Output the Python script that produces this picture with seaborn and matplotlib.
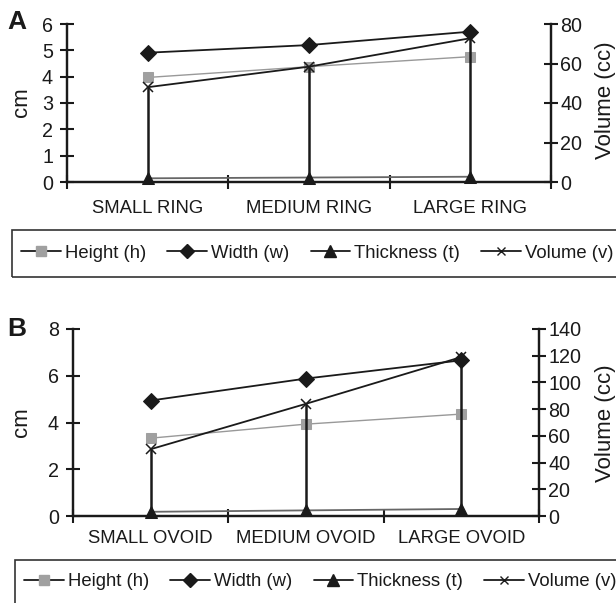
import numpy as np
import matplotlib
matplotlib.use("Agg")
import matplotlib.pyplot as plt
import seaborn as sns
from matplotlib.lines import Line2D
from matplotlib.patches import Rectangle

# ==========================
# DATA
# ==========================
ring_labels = ["SMALL RING", "MEDIUM RING", "LARGE RING"]
ring_height = [3.97, 4.38, 4.76]
ring_width = [4.91, 5.20, 5.71]
ring_thickness = [0.14, 0.17, 0.20]
ring_volume = [48, 58.4, 72.8]

ovoid_labels = ["SMALL OVOID", "MEDIUM OVOID", "LARGE OVOID"]
ovoid_height = [3.33, 3.93, 4.36]
ovoid_width = [4.94, 5.88, 6.66]
ovoid_thickness = [0.18, 0.24, 0.30]
ovoid_volume = [50, 84, 119]

series_names = ["Height (h)", "Width (w)", "Thickness (t)", "Volume (v)"]

# ==========================
# STYLE
# ==========================
sns.set_theme(style="white")
plt.rcParams["font.family"] = ["Liberation Sans", "DejaVu Sans"]
FS = 13.3
YFS = 14.2
W, H = 616, 603

fig = plt.figure(figsize=(6.16, 6.03), dpi=100)


def panel(rect, labels, height, width, thick, vol, cm_max, cm_step,
          vol_max, vol_step, xpad):
    ax = fig.add_axes(rect)
    ax2 = ax.twinx()
    x = np.arange(len(labels))

    sns.lineplot(x=x, y=height, ax=ax, color="#999999", lw=1.0,
                 marker="s", markersize=7, markeredgecolor="#a0a0a0",
                 markerfacecolor="#a0a0a0", clip_on=False, zorder=3)
    sns.lineplot(x=x, y=width, ax=ax, color="#1a1a1a", lw=1.3,
                 marker="D", markersize=8.5, markeredgecolor="#1a1a1a",
                 markerfacecolor="#1a1a1a", clip_on=False, zorder=3)
    sns.lineplot(x=x, y=thick, ax=ax, color="#666666", lw=1.3,
                 marker="^", markersize=9, markeredgecolor="#1a1a1a",
                 markerfacecolor="#1a1a1a", clip_on=False, zorder=3)
    sns.lineplot(x=x, y=vol, ax=ax2, color="#1a1a1a", lw=1.3,
                 marker="x", markersize=7, markeredgewidth=1.1,
                 markeredgecolor="#1a1a1a", clip_on=False, zorder=3)
    ax2.vlines(x, 0, vol, color="#1a1a1a", lw=1.8, zorder=2)

    for a in (ax, ax2):
        a.set_xlim(-0.5, len(labels) - 0.5)
        a.spines["top"].set_visible(False)
        for s in ("left", "right", "bottom"):
            a.spines[s].set_color("#1a1a1a")
            a.spines[s].set_linewidth(1.6)
        a.grid(False)
        a.set_ylabel("")
    ax.set_ylim(0, cm_max)
    ax.set_yticks(np.arange(0, cm_max + 0.01, cm_step))
    ax2.set_ylim(0, vol_max)
    ax2.set_yticks(np.arange(0, vol_max + 0.01, vol_step))

    # category boundaries as major ticks, labels on minor ticks
    ax.set_xticks(np.arange(-0.5, len(labels), 1.0))
    ax.set_xticklabels([])
    ax.set_xticks(x, minor=True)
    ax.set_xticklabels(labels, minor=True, fontsize=FS, color="#1a1a1a")
    ax.tick_params(axis="x", which="major", direction="inout", length=10,
                   width=1.5, color="#1a1a1a", bottom=True)
    ax.tick_params(axis="x", which="minor", length=0, pad=xpad, bottom=True)
    ax.tick_params(axis="y", direction="inout", length=10, width=1.5,
                   color="#1a1a1a", labelsize=YFS, labelcolor="#1a1a1a",
                   pad=5, left=True)
    ax2.tick_params(axis="y", direction="inout", length=10, width=1.5,
                    color="#1a1a1a", labelsize=YFS, labelcolor="#1a1a1a",
                    pad=1.5, right=True)
    ax2.tick_params(axis="x", bottom=False, labelbottom=False)
    return ax, ax2


panel([67 / W, 1 - 182 / H, 484 / W, 158 / H], ring_labels,
      ring_height, ring_width, ring_thickness, ring_volume,
      6, 1, 80, 20, 13)
panel([73 / W, 1 - 516 / H, 466 / W, 187 / H], ovoid_labels,
      ovoid_height, ovoid_width, ovoid_thickness, ovoid_volume,
      8, 2, 140, 20, 10)

# panel letters and axis titles
fig.text(17 / W, 1 - 22 / H, "A", fontsize=19, fontweight="bold",
         ha="center", va="center", color="#1a1a1a")
fig.text(17 / W, 1 - 329 / H, "B", fontsize=19, fontweight="bold",
         ha="center", va="center", color="#1a1a1a")
fig.text(22 / W, 1 - 102 / H, "cm", fontsize=16, rotation=90,
         ha="center", va="center", color="#1a1a1a")
fig.text(22 / W, 1 - 422 / H, "cm", fontsize=16, rotation=90,
         ha="center", va="center", color="#1a1a1a")
fig.text(605 / W, 1 - 100 / H, "Volume (cc)", fontsize=16, rotation=90,
         ha="center", va="center", color="#1a1a1a")
fig.text(605 / W, 1 - 423 / H, "Volume (cc)", fontsize=16, rotation=90,
         ha="center", va="center", color="#1a1a1a")

# ==========================
# LEGENDS
# ==========================
handles = [
    Line2D([], [], color="#1a1a1a", lw=1.3, marker="s", markersize=6.5,
           markerfacecolor="#a0a0a0", markeredgecolor="#a0a0a0"),
    Line2D([], [], color="#1a1a1a", lw=1.3, marker="D", markersize=7,
           markerfacecolor="#1a1a1a", markeredgecolor="#1a1a1a"),
    Line2D([], [], color="#1a1a1a", lw=1.3, marker="^", markersize=8,
           markerfacecolor="#1a1a1a", markeredgecolor="#1a1a1a"),
    Line2D([], [], color="#1a1a1a", lw=1.3, marker="x", markersize=6,
           markeredgewidth=1.0, markeredgecolor="#1a1a1a"),
]

# (box left, box top, box bottom, handle start, text centre) in pixels
legend_spots = [(12, 230, 277, 21, 253), (15, 560, 607, 24, 582)]

for bx, btop, bbot, hx, ty in legend_spots:
    fig.patches.append(Rectangle((bx / W, 1 - bbot / H), (W + 20 - bx) / W,
                                 (bbot - btop) / H, transform=fig.transFigure,
                                 fill=False, edgecolor="#333333", lw=1.2))
    leg = fig.legend(handles, series_names, loc="center left",
                     bbox_to_anchor=(hx / W, 1 - ty / H), ncol=4,
                     frameon=False, fontsize=FS,
                     handlelength=2.15, handletextpad=0.22,
                     columnspacing=1.15, borderpad=0, borderaxespad=0)
    for t in leg.get_texts():
        t.set_color("#1a1a1a")

fig.savefig("out.png", dpi=100)
